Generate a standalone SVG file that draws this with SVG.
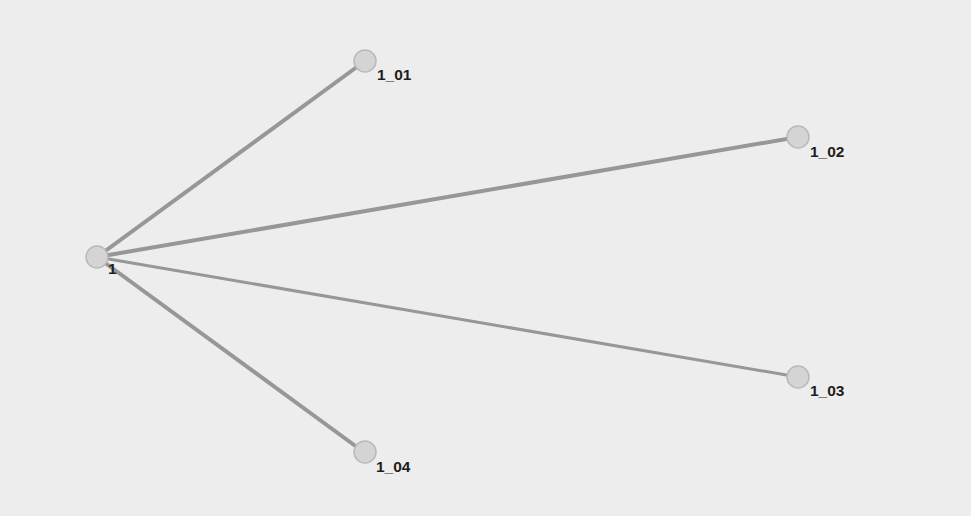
<svg xmlns="http://www.w3.org/2000/svg" width="971" height="516" viewBox="0 0 971 516">
<style>
.edge{stroke:#979797;stroke-linecap:round;fill:none}
.node circle{fill:#d4d4d4;stroke:#b9b9b9;stroke-width:1.5}
.node text{font-family:"Liberation Sans",Arial,sans-serif;font-size:15.5px;font-weight:bold;fill:#1e1e1e}
</style>
<rect width="971" height="516" fill="#ededed"/>
<g id="connectors">
<line class="edge" x1="97" y1="257" x2="365" y2="61" stroke-width="4"/>
<line class="edge" x1="97" y1="257" x2="798" y2="137" stroke-width="4"/>
<line class="edge" x1="97" y1="257" x2="798" y2="377" stroke-width="3"/>
<line class="edge" x1="97" y1="257" x2="365" y2="453" stroke-width="4"/>
</g>
<g id="node-1" class="node"><circle cx="97" cy="257" r="11"/><text x="108" y="274">1</text></g>
<g id="node-1_01" class="node"><circle cx="365" cy="61" r="11"/><text x="377" y="80">1_01</text></g>
<g id="node-1_02" class="node"><circle cx="798" cy="137" r="11"/><text x="810" y="157">1_02</text></g>
<g id="node-1_03" class="node"><circle cx="798" cy="377" r="11"/><text x="810" y="396">1_03</text></g>
<g id="node-1_04" class="node"><circle cx="365" cy="452" r="11"/><text x="376" y="472">1_04</text></g>
</svg>
